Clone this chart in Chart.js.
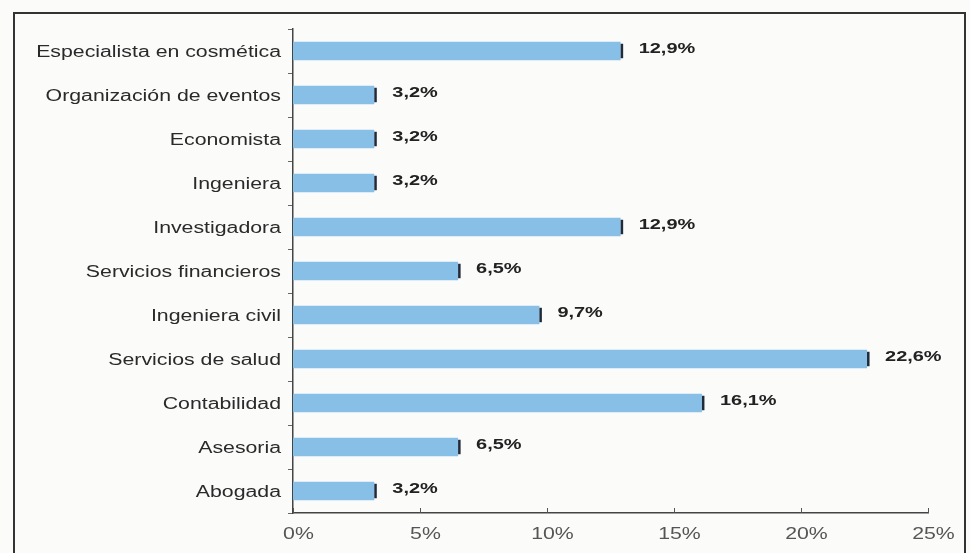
<!DOCTYPE html>
<html>
<head>
<meta charset="utf-8">
<script src="https://cdn.jsdelivr.net/npm/chart.js@4"></script>
<style>
  html, body { margin: 0; padding: 0; background: #fbfbfa; }
  #wrap { width: 970px; height: 553px; position: relative; }
</style>
</head>
<body>
<div id="wrap"><canvas id="profChart"></canvas></div>
<script>
// ================= Data =================
const categories = [
    "Especialista en cosmética",
    "Organización de eventos",
    "Economista",
    "Ingeniera",
    "Investigadora",
    "Servicios financieros",
    "Ingeniera civil",
    "Servicios de salud",
    "Contabilidad",
    "Asesoria",
    "Abogada"
];
const percentages = [12.9, 3.2, 3.2, 3.2, 12.9, 6.5, 9.7, 22.6, 16.1, 6.5, 3.2];
const xTicks = [0, 5, 10, 15, 20, 25];

const fmt = v => v.toFixed(1).replace(".", ",") + "%";
const FONT = "'Liberation Sans', Arial, sans-serif";
const STRETCH = 1.33; // wide lettering

// draw text stretched horizontally
function wideText(ctx, text, x, y, align) {
    ctx.save();
    ctx.translate(x, y);
    ctx.scale(STRETCH, 1);
    ctx.textAlign = align;
    ctx.fillText(text, 0, 0);
    ctx.restore();
}

// ================= Plugins =================
// frame around the whole figure
const framePlugin = {
    id: "frame",
    beforeDraw(chart) {
        const ctx = chart.ctx;
        ctx.save();
        ctx.strokeStyle = "#333";
        ctx.lineWidth = 2;
        ctx.strokeRect(14, 13, 951, 600);
        ctx.restore();
    }
};

// category names, x tick labels and inner x ticks
const axisText = {
    id: "axisText",
    afterDraw(chart) {
        const ctx = chart.ctx;
        const ys = chart.scales.y;
        const xs = chart.scales.x;
        const bottom = chart.chartArea.bottom;
        ctx.save();
        ctx.textBaseline = "middle";
        ctx.fillStyle = "#2a2a2a";
        ctx.font = "16px " + FONT;
        categories.forEach((c, i) => {
            wideText(ctx, c, ys.right - 12, ys.getPixelForValue(i) + 2, "right");
        });
        ctx.fillStyle = "#555";
        ctx.font = "16px " + FONT;
        ctx.strokeStyle = "#555";
        ctx.lineWidth = 1;
        xTicks.forEach(t => {
            const px = Math.round(xs.getPixelForValue(t)) + 0.5;
            ctx.beginPath();
            ctx.moveTo(px, bottom);
            ctx.lineTo(px, bottom - 5);
            ctx.stroke();
            wideText(ctx, t + "%", px + 5, bottom + 22, "center");
        });
        ctx.restore();
    }
};

// dark cap at the end of each bar, value text next to it
const barLabels = {
    id: "barLabels",
    afterDatasetsDraw(chart) {
        const ctx = chart.ctx;
        const meta = chart.getDatasetMeta(0);
        ctx.save();
        ctx.textBaseline = "middle";
        ctx.font = "bold 15px " + FONT;
        meta.data.forEach((bar, i) => {
            const h = bar.height;
            ctx.fillStyle = "#1f2a3a";
            ctx.fillRect(bar.x, bar.y - h / 2 + 2, 2.5, h - 4);
            ctx.fillStyle = "#222";
            wideText(ctx, fmt(percentages[i]), bar.x + 18, bar.y - 2, "left");
        });
        ctx.restore();
    }
};

// ================= Chart =================
const ctx = document.getElementById("profChart").getContext("2d");

// soft top-to-bottom shading for the bars
function barFill(context) {
    const el = context.element;
    if (!el || !el.height) return "#88bfe6";
    const c = context.chart.ctx;
    const g = c.createLinearGradient(0, el.y - el.height / 2, 0, el.y + el.height / 2);
    g.addColorStop(0, "#a6d2f0");
    g.addColorStop(0.5, "#86bde6");
    g.addColorStop(1, "#77aedb");
    return g;
}

new Chart(ctx, {
    type: "bar",
    data: {
        labels: categories,
        datasets: [{
            data: percentages,
            backgroundColor: barFill,
            borderWidth: 0,
            barPercentage: 0.42,
            categoryPercentage: 1
        }]
    },
    options: {
        indexAxis: "y",
        responsive: true,
        maintainAspectRatio: false,
        animation: false,
        layout: { padding: { left: 14, right: 42, top: 29, bottom: 0 } },
        plugins: {
            legend: { display: false },
            tooltip: { enabled: false }
        },
        scales: {
            x: {
                min: 0,
                max: 25,
                afterBuildTicks: axis => { axis.ticks = xTicks.map(v => ({ value: v })); },
                afterFit: axis => { axis.height = 40; },
                border: { color: "#444", width: 1.5 },
                grid: { display: false },
                ticks: { display: false }
            },
            y: {
                afterFit: axis => { axis.width = 279; },
                border: { color: "#444", width: 1.5 },
                grid: { drawOnChartArea: false, offset: true, tickLength: 5, color: "#666" },
                ticks: { display: false }
            }
        }
    },
    plugins: [framePlugin, barLabels, axisText]
});
</script>
</body>
</html>
